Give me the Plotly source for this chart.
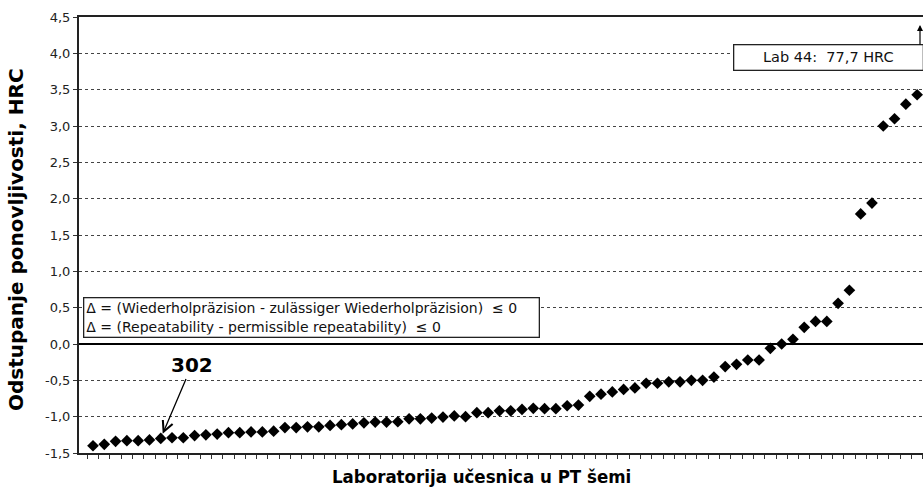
import plotly.graph_objects as go

# ---- data ----
labs = list(range(1, 76))
deviation = [
    -1.40, -1.38, -1.34, -1.33, -1.33, -1.32, -1.30, -1.29, -1.29, -1.26,
    -1.25, -1.24, -1.22, -1.22, -1.21, -1.21, -1.20, -1.15, -1.15, -1.14,
    -1.14, -1.12, -1.11, -1.10, -1.085, -1.075, -1.075, -1.07, -1.03, -1.03,
    -1.02, -1.005, -0.99, -1.00, -0.945, -0.945, -0.92, -0.92, -0.90, -0.885,
    -0.89, -0.89, -0.85, -0.84, -0.72, -0.69, -0.66, -0.625, -0.605, -0.54,
    -0.54, -0.52, -0.52, -0.50, -0.50, -0.455, -0.31, -0.28, -0.22, -0.22,
    -0.06, 0.00, 0.065, 0.23, 0.31, 0.31, 0.56, 0.74, 1.79, 1.94,
    3.00, 3.10, 3.30, 3.43, 77.7,
]
ytick_vals = [-1.5, -1.0, -0.5, 0.0, 0.5, 1.0, 1.5, 2.0, 2.5, 3.0, 3.5, 4.0, 4.5]
ytick_text = ["-1,5", "-1,0", "-0,5", "0,0", "0,5", "1,0", "1,5", "2,0",
              "2,5", "3,0", "3,5", "4,0", "4,5"]
highlight_lab = 7
highlight_label = "302"
outlier_label = "Lab 44:\u00a0\u00a077,7 HRC"
note_lines = [
    "\u0394 = (Wiederholpräzision - zulässiger Wiederholpräzision)\u00a0\u00a0\u2264 0",
    "\u0394 = (Repeatability - permissible repeatability)\u00a0\u00a0\u2264 0",
]
x_title = "Laboratorija učesnica u PT šemi"
y_title = "Odstupanje ponovljivosti, HRC"

W, H = 923, 487
ML, MR, MT, MB = 79, 0, 17, 34
PW, PH = W - ML - MR, H - MT - MB

fig = go.Figure()
fig.add_trace(go.Scatter(
    x=labs, y=deviation, mode="markers",
    marker=dict(symbol="diamond", size=9, color="black"),
    showlegend=False, hoverinfo="x+y",
))

def px_x(p):
    return (p - ML) / PW

def px_y(p):
    return 1 - (p - MT) / PH

annotations = [
    # pointer to lab 302
    dict(x=highlight_lab, y=deviation[highlight_lab - 1], xref="x", yref="y",
         text="<b>%s</b>" % highlight_label, showarrow=True,
         ax=31, ay=-73, arrowhead=5, arrowsize=1.6, arrowwidth=1.3,
         arrowcolor="black", standoff=5,
         font=dict(family="DejaVu Sans", size=20, color="black")),
    # note box
    dict(x=px_x(83), y=px_y(317), xref="paper", yref="paper",
         xanchor="left", yanchor="middle", align="left", width=450,
         text="<br>".join(note_lines), showarrow=False,
         bordercolor="#222", borderwidth=1.3, borderpad=2, bgcolor="white",
         font=dict(family="DejaVu Sans", size=14, color="#111")),
    # outlier box
    dict(x=px_x(828), y=px_y(57.5), xref="paper", yref="paper",
         xanchor="center", yanchor="middle", width=184, height=20,
         text=outlier_label, showarrow=False,
         bordercolor="#222", borderwidth=1.3, borderpad=2, bgcolor="white",
         font=dict(family="DejaVu Sans", size=14.5, color="#111")),
    # outlier arrow
    dict(x=px_x(920), y=px_y(25), xref="paper", yref="paper",
         text="", showarrow=True, ax=0, ay=21, arrowhead=2, arrowsize=1,
         arrowwidth=1.2, arrowcolor="black"),
    # axis titles
    dict(x=px_x(481), y=px_y(477), xref="paper", yref="paper",
         xanchor="center", yanchor="middle",
         text="<b>%s</b>" % x_title, showarrow=False,
         font=dict(family="DejaVu Sans Condensed, DejaVu Sans", size=18.5, color="black")),
    dict(x=px_x(16), y=px_y(240), xref="paper", yref="paper",
         xanchor="center", yanchor="middle",
         text="<b>%s</b>" % y_title, showarrow=False, textangle=-90,
         font=dict(family="DejaVu Sans", size=20, color="black")),
]

fig.update_layout(
    width=W, height=H,
    margin=dict(l=ML, r=MR, t=MT, b=MB, pad=0),
    paper_bgcolor="white", plot_bgcolor="white",
    annotations=annotations,
    xaxis=dict(
        range=[-0.24, 74.52], showgrid=False, zeroline=False,
        showline=True, linecolor="#222", linewidth=1.5, mirror=True,
        ticks="outside", ticklen=4, tickwidth=1, tickcolor="#333",
        tick0=0.5, dtick=1, showticklabels=False,
    ),
    yaxis=dict(
        range=[-1.5, 4.5], tickmode="array", tickvals=ytick_vals, ticktext=ytick_text,
        showgrid=True, gridcolor="#444", griddash="dot", gridwidth=1,
        zeroline=True, zerolinecolor="black", zerolinewidth=2,
        showline=True, linecolor="#222", linewidth=2,
        ticks="outside", ticklen=4, tickcolor="#333",
        tickfont=dict(family="DejaVu Sans", size=13, color="#222"),
    ),
)

fig.write_html("out.html", config={"displayModeBar": False},
               post_script="document.body.style.margin='0';")
